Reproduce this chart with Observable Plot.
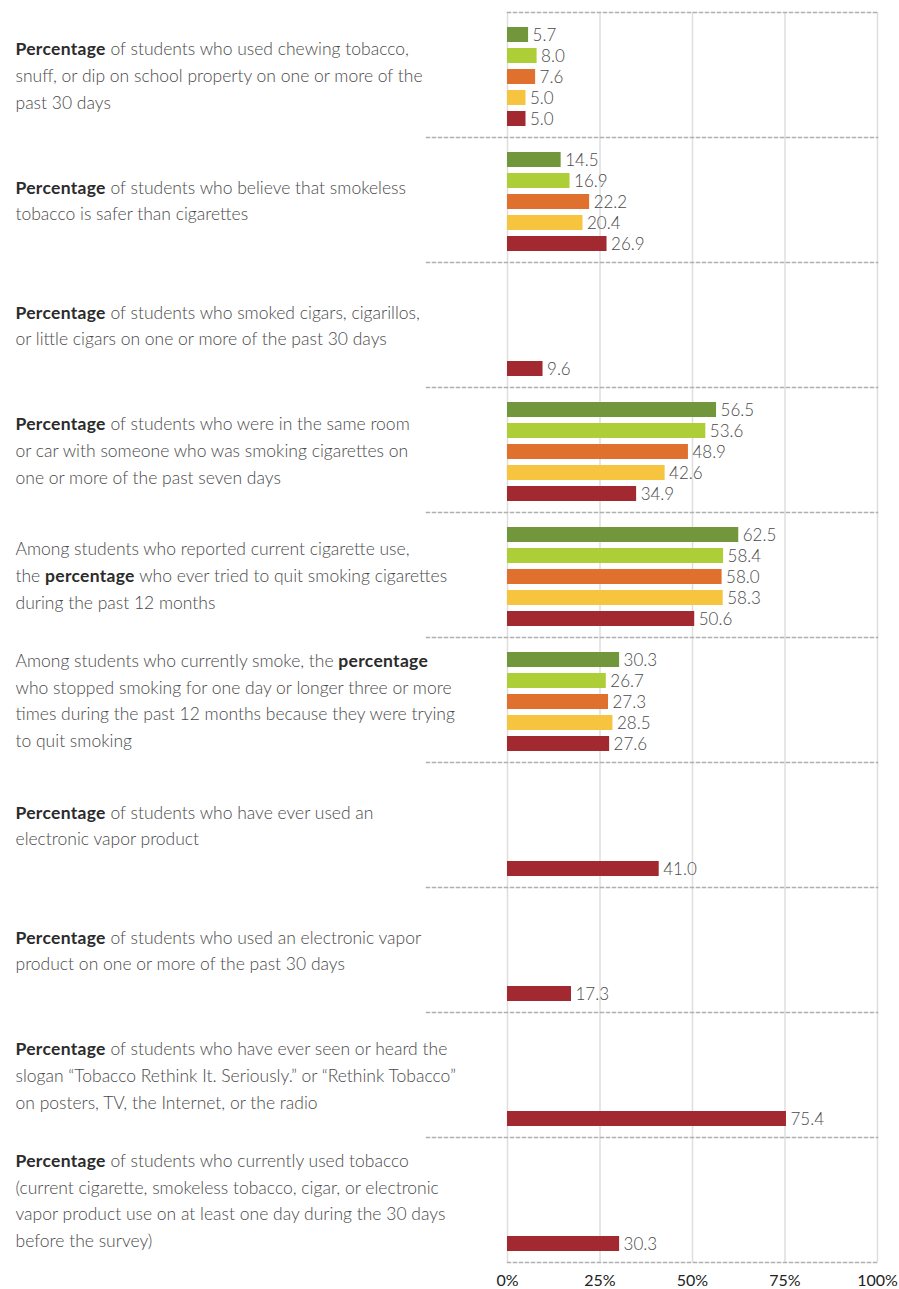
<!DOCTYPE html>
<html><head><meta charset="utf-8">
<script src="https://cdn.jsdelivr.net/npm/d3@7"></script>
<script src="https://cdn.jsdelivr.net/npm/@observablehq/plot@0.6"></script>
<style>
html,body{margin:0;padding:0;background:#fff;}
</style></head><body><div id="chart"></div>
<script>
// Question labels (line breaks as in the original)
const questions = [
  "Percentage of students who used chewing tobacco,\nsnuff, or dip on school property on one or more of the\npast 30 days",
  "Percentage of students who believe that smokeless\ntobacco is safer than cigarettes",
  "Percentage of students who smoked cigars, cigarillos,\nor little cigars on one or more of the past 30 days",
  "Percentage of students who were in the same room\nor car with someone who was smoking cigarettes on\none or more of the past seven days",
  "Among students who reported current cigarette use,\nthe percentage who ever tried to quit smoking cigarettes\nduring the past 12 months",
  "Among students who currently smoke, the percentage\nwho stopped smoking for one day or longer three or more\ntimes during the past 12 months because they were trying\nto quit smoking",
  "Percentage of students who have ever used an\nelectronic vapor product",
  "Percentage of students who used an electronic vapor\nproduct on one or more of the past 30 days",
  "Percentage of students who have ever seen or heard the\nslogan \u201cTobacco Rethink It. Seriously.\u201d or \u201cRethink Tobacco\u201d\non posters, TV, the Internet, or the radio",
  "Percentage of students who currently used tobacco\n(current cigarette, smokeless tobacco, cigar, or electronic\nvapor product use on at least one day during the 30 days\nbefore the survey)"
];

// Series (survey years), one value per question; null = not asked
const years = ["2009", "2011", "2013", "2015", "2017"];
const v2009 = [5.7, 14.5, null, 56.5, 62.5, 30.3, null, null, null, null];
const v2011 = [8.0, 16.9, null, 53.6, 58.4, 26.7, null, null, null, null];
const v2013 = [7.6, 22.2, null, 48.9, 58.0, 27.3, null, null, null, null];
const v2015 = [5.0, 20.4, null, 42.6, 58.3, 28.5, null, null, null, null];
const v2017 = [5.0, 26.9, 9.6, 34.9, 50.6, 27.6, 41.0, 17.3, 75.4, 30.3];
const colors = ["#72963c", "#aece37", "#e0702e", "#f6c43e", "#a2292f"];
const xTicks = [0, 25, 50, 75, 100];

const series = [v2009, v2011, v2013, v2015, v2017];
const rows = [];
questions.forEach((q, g) => series.forEach((s, k) => {
  if (s[g] != null) rows.push({question: q, year: years[k], value: s[g]});
}));
const groupRows = questions.map(q => ({question: q}));

const sepStyle = {stroke: "#b0b0b0", strokeWidth: 1.5, strokeDasharray: "3,3"};

const chart = Plot.plot({
  width: 899,
  height: 1289,
  marginTop: 12,
  marginBottom: 27,
  marginLeft: 507,
  marginRight: 22,
  style: {fontFamily: "Lato, sans-serif", fontSize: "16px", background: "#fff", color: "#222", overflow: "visible"},
  fy: {domain: questions, padding: 0, axis: null},
  y: {domain: years, padding: 0.3, insetTop: 8.2, insetBottom: 4.4, axis: null},
  x: {domain: [0, 100], ticks: xTicks, tickFormat: d => d + "%", tickSize: 0, tickPadding: 12, label: null, axis: "bottom"},
  color: {domain: years, range: colors},
  marks: [
    Plot.ruleX(xTicks, {stroke: "#dedede", strokeWidth: 1.5}),
    Plot.frame({anchor: "top", fy: () => questions[0], ...sepStyle}),
    ...questions.slice(1).map(q => Plot.frame({anchor: "top", fy: () => q, insetLeft: -81, ...sepStyle})),
    Plot.frame({anchor: "bottom", fy: () => questions[questions.length - 1], ...sepStyle}),
    Plot.barX(rows, {fy: "question", y: "year", x: "value", fill: "year"}),
    Plot.text(rows, {fy: "question", y: "year", x: "value", text: d => d.value.toFixed(1), dx: 4, dy: 1, textAnchor: "start", fill: "#4a4a4a", fontWeight: 300, fontSize: 17}),
    Plot.text(groupRows, {fy: "question", text: "question", frameAnchor: "left", dx: -492, dy: -1.5, textAnchor: "start", lineAnchor: "middle", lineHeight: 1.52, fill: "#4a4a4a", fontWeight: 300, fontSize: 17.5})
  ]
});

// Emphasise the word "percentage" in each question label
d3.select(chart).selectAll("tspan").each(function () {
  const t = this.textContent;
  const m = t.match(/^(.*?)([Pp]ercentage)(.*)$/);
  if (!m) return;
  const sel = d3.select(this);
  sel.text(null);
  if (m[1]) sel.append("tspan").text(m[1]);
  sel.append("tspan").attr("font-weight", 700).attr("letter-spacing", "0.3px").attr("fill", "#2b2b2b").text(m[2]);
  if (m[3]) sel.append("tspan").text(m[3]);
});

document.getElementById("chart").appendChild(chart);
</script>
</body></html>
